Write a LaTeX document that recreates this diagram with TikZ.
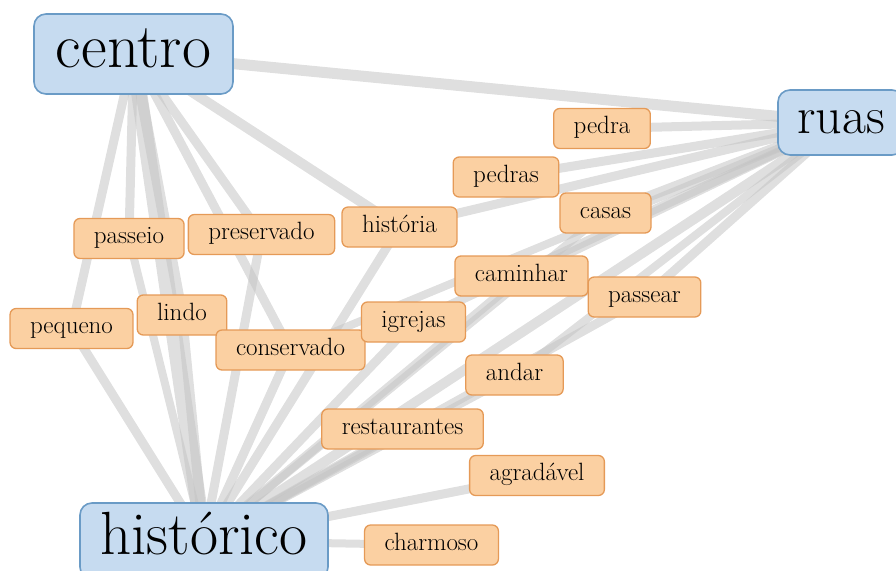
\documentclass[tikz,border=0pt]{standalone}
\usepackage{tikz}
\usetikzlibrary{backgrounds}
\definecolor{hubc}{HTML}{6A9BC6}
\definecolor{hubbg}{HTML}{C6DBF0}
\definecolor{wordc}{HTML}{E59A57}
\definecolor{wordbg}{HTML}{FBD0A2}
\definecolor{linkc}{HTML}{C4C4C4}
\tikzset{
  hub/.style={draw=hubc,line width=1.6pt,rounded corners=12pt,fill=hubbg,inner xsep=4pt,text depth=0pt},
  wd/.style={draw=wordc,line width=1.3pt,rounded corners=6pt,fill=wordbg,font=\fontsize{25}{27}\selectfont,minimum height=40pt,inner xsep=20pt,text height=10.8pt,text depth=0pt},
  lnk/.style={line width=#1pt,draw=linkc,opacity=.55},
  lnk/.default=9
}

\begin{document}
\begin{tikzpicture}[x=1pt,y=-1pt]
\path[use as bounding box,clip] (0,0) rectangle (896,570);
% hubs
\node[hub,minimum width=199pt,minimum height=80pt,text height=27pt,font=\fontsize{63}{66}\selectfont] (centro) at (133.5,54) {centro};
\node[hub,minimum width=126pt,minimum height=65pt,text height=22pt,font=\fontsize{52}{56}\selectfont] (ruas) at (841,122.5) {ruas};
\node[hub,minimum width=248pt,minimum height=76pt,text height=26pt,font=\fontsize{61}{64}\selectfont] (historico) at (204,541) {histórico};
% words
\node[wd] (pedra) at (602,128.5) {pedra};
\node[wd] (pedras) at (506,177) {pedras};
\node[wd] (casas) at (605.5,213) {casas};
\node[wd] (historia) at (399.5,227) {história};
\node[wd] (preservado) at (261.5,234.5) {preservado};
\node[wd] (passeio) at (129,238.5) {passeio};
\node[wd] (caminhar) at (521.5,276) {caminhar};
\node[wd] (passear) at (644.5,297) {passear};
\node[wd] (pequeno) at (71.5,328.5) {pequeno};
\node[wd] (lindo) at (182,315) {lindo};
\node[wd] (conservado) at (290.5,350) {conservado};
\node[wd] (igrejas) at (413.5,322) {igrejas};
\node[wd] (andar) at (514.5,375) {andar};
\node[wd] (restaurantes) at (402.5,429) {restaurantes};
\node[wd] (agradavel) at (537,475.5) {agradável};
\node[wd] (charmoso) at (431.5,545) {charmoso};
% links
\begin{scope}[on background layer]
\foreach \a/\b/\w in {centro/ruas/11,centro/historico/16,centro/pequeno/9,centro/passeio/9,
  centro/lindo/11,centro/preservado/9,centro/conservado/9,centro/historia/10}
  \draw[lnk=\w] (\a.center) -- (\b.center);
\foreach \b/\w in {pequeno/9,lindo/10,passeio/8,preservado/9,conservado/9,historia/9,igrejas/9,
  caminhar/9,casas/8,passear/9,andar/8,restaurantes/9,agradavel/9,charmoso/8,ruas/10}
  \draw[lnk=\w] (historico.center) -- (\b.center);
\foreach \b/\w in {pedra/9,pedras/9,casas/10,historia/9,caminhar/9,passear/9,igrejas/9,
  conservado/8,andar/8}
  \draw[lnk=\w] (ruas.center) -- (\b.center);
\end{scope}
\end{tikzpicture}
\end{document}
